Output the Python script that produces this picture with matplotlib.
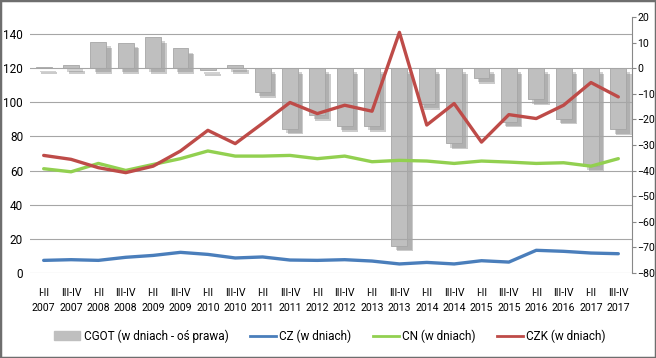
import numpy as np
import matplotlib
matplotlib.use("Agg")
import matplotlib.pyplot as plt
import matplotlib.patheffects as pe
from matplotlib import font_manager
from matplotlib.patches import Rectangle, Patch
from matplotlib.lines import Line2D

# -------------------------------
# Data
# -------------------------------

periods = ["I-II", "III-IV"] * 11
years = [str(y) for y in range(2007, 2018) for _ in range(2)]
labels = [f"{p}\n{y}" for p, y in zip(periods, years)]

cgot = [0.5, 1.2, 10.2, 9.9, 12.2, 7.7, -0.7, 1.4, -9.4, -23.7, -18.4,
        -22.6, -22.6, -69.4, -14.1, -29.4, -3.9, -20.9, -12.2, -19.7, -38.3, -23.9]
cz = [7.4, 7.8, 7.4, 9.2, 10.3, 12.1, 10.9, 8.8, 9.4, 7.6, 7.4,
      7.8, 7.0, 5.3, 6.2, 5.3, 7.2, 6.4, 13.3, 12.7, 11.7, 11.3]
cn = [61.1, 59.3, 64.2, 60.1, 63.6, 67.0, 71.5, 68.5, 68.5, 68.9, 67.0,
      68.5, 65.2, 66.0, 65.6, 64.2, 65.6, 65.0, 64.2, 64.6, 62.6, 67.0]
czk = [68.9, 66.6, 61.7, 58.8, 62.6, 71.5, 83.6, 75.8, 87.7, 99.9, 93.4,
       98.3, 94.8, 141.0, 86.7, 99.3, 76.7, 92.8, 90.5, 98.3, 111.6, 103.2]

# narrow font if available, otherwise a compact sans
installed = {f.name for f in font_manager.fontManager.ttflist}
if "Liberation Sans Narrow" in installed:
    plt.rcParams["font.family"] = ["Liberation Sans Narrow", "DejaVu Sans"]
    fs_x, fs, fs_r = 9, 9.5, 9
else:
    plt.rcParams["font.family"] = ["Roboto", "DejaVu Sans"]
    fs_x, fs, fs_r = 7.6, 8.5, 7.6

# -------------------------------
# Figure
# -------------------------------

fig = plt.figure(figsize=(6.56, 3.58), dpi=100)
ax = fig.add_axes([30 / 656, 1 - 273 / 358, 602 / 656, 256 / 358])
ax2 = ax.twinx()

x = np.arange(len(labels))

# bars on right axis, drawn behind lines
ax2.set_zorder(1)
ax.set_zorder(2)
ax.patch.set_visible(False)

bars = ax2.bar(x, cgot, width=0.58, color="#BFBFBF", edgecolor="#A6A6A6",
               linewidth=0.6, zorder=2)
for b in bars:
    b.set_path_effects([
        pe.SimplePatchShadow(offset=(4, -4), shadow_rgbFace="#8C8C8C", alpha=0.45),
        pe.SimplePatchShadow(offset=(3, -3), shadow_rgbFace="#7F7F7F", alpha=0.35),
        pe.Normal(),
    ])

ax.plot(x, cz, color="#4A7EBB", lw=2.4, solid_capstyle="round")
ax.plot(x, cn, color="#92D050", lw=2.4, solid_capstyle="round")
ax.plot(x, czk, color="#BE4B48", lw=2.4, solid_capstyle="round")

ax.set_xlim(-0.5, len(labels) - 0.5)
ax.set_ylim(0, 150)
ax.set_yticks(range(0, 141, 20))
ax2.set_ylim(-80, 20)
ax2.set_yticks(range(-80, 21, 10))

ax2.yaxis.grid(False)
ax.yaxis.grid(True, color="#A6A6A6", lw=0.8)
ax.set_axisbelow(True)

ax.set_xticks(x)
ax.set_xticklabels(labels, fontsize=fs_x, linespacing=1.6)
ax.tick_params(axis="x", length=0, pad=11)
ax.tick_params(axis="y", length=0, labelsize=fs, pad=5)
ax2.tick_params(axis="y", length=3, color="#888888", labelsize=fs_r, pad=1)

for s in ["top", "left", "bottom"]:
    ax.spines[s].set_visible(False)
    ax2.spines[s].set_visible(False)
ax.spines["right"].set_visible(False)
ax2.spines["right"].set_color("#888888")
ax2.spines["right"].set_linewidth(0.8)

# -------------------------------
# Legend
# -------------------------------

handles = [
    Patch(facecolor="#BFBFBF", edgecolor="#BFBFBF"),
    Line2D([], [], color="#4A7EBB", lw=2),
    Line2D([], [], color="#92D050", lw=2),
    Line2D([], [], color="#BE4B48", lw=2),
]
names = ["CGOT (w dniach - oś prawa)", "CZ (w dniach)", "CN (w dniach)", "CZK (w dniach)"]
fig.legend(handles, names, loc="center", bbox_to_anchor=(330 / 656, 1 - 336 / 358),
           ncol=4, frameon=False, fontsize=fs, handlelength=2.2, handletextpad=0.3,
           columnspacing=1.8)

# outer border
fig.patches.append(Rectangle((0, 0), 1, 1, transform=fig.transFigure, fill=False,
                             edgecolor="#6E6E6E", lw=2.5))

fig.savefig("out.png", dpi=100)
